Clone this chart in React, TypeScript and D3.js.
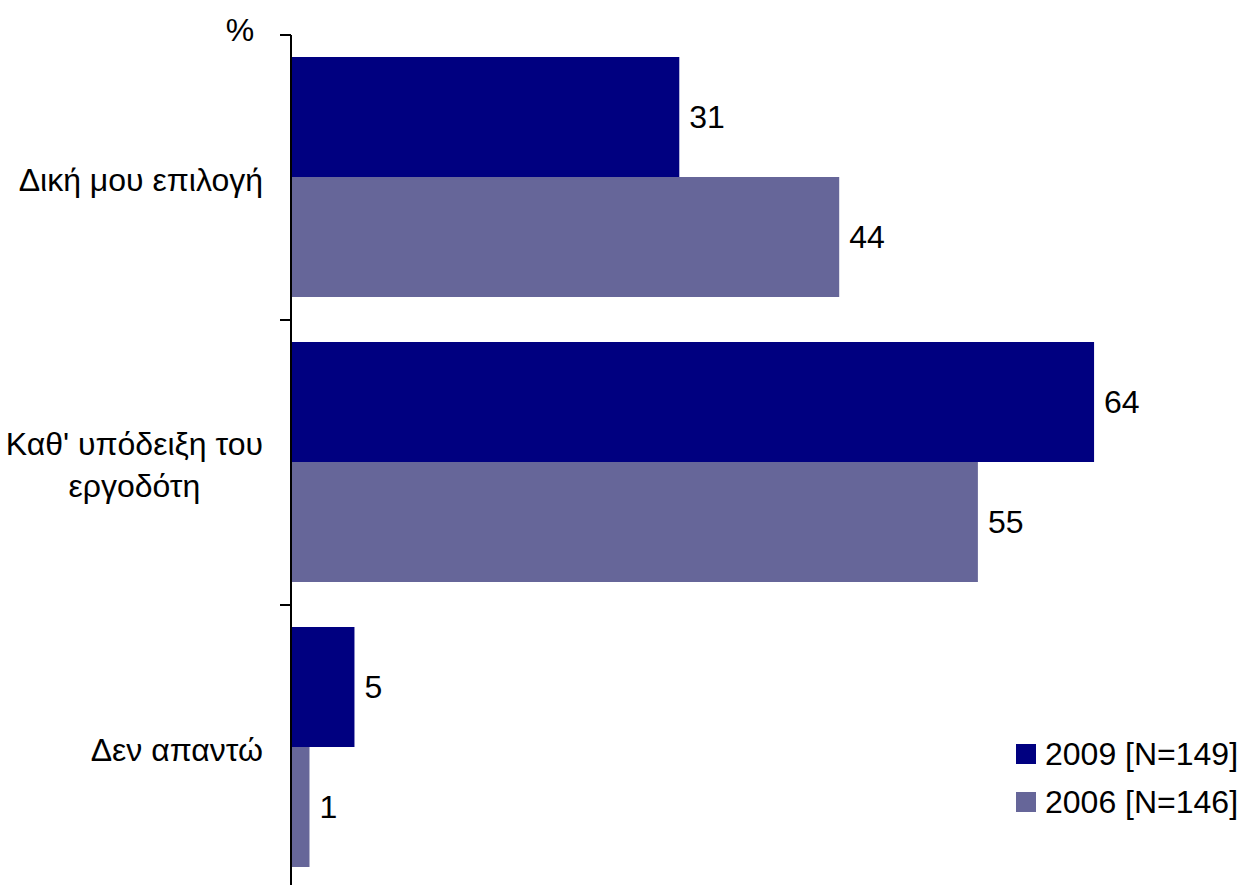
import React from "react";
import * as d3 from "d3";

const categories: string[][] = [
  ["Δική μου επιλογή"],
  ["Καθ' υπόδειξη του", "εργοδότη"],
  ["Δεν απαντώ"],
];
const categoryKeys = ["c1", "c2", "c3"];
const seriesNames = ["2009 [N=149]", "2006 [N=146]"];
const values2009 = [31, 64.2, 5];
const values2006 = [43.8, 54.9, 1.4];
const seriesValues = [values2009, values2006];
const colors = ["#000080", "#666699"];

const W = 1241;
const H = 885;
const FONT = "Liberation Sans, Arial, sans-serif";
const FS = 32;

let ctx: CanvasRenderingContext2D | null = null;
function measure(t: string): number {
  if (!ctx) {
    const c = document.createElement("canvas");
    ctx = c.getContext("2d");
  }
  if (!ctx) return t.length * FS * 0.5;
  ctx.font = `${FS}px ${FONT}`;
  return ctx.measureText(t).width;
}

export default function App() {
  const x = d3.scaleLinear().domain([0, 75]).range([292, 1229]);
  const yCat = d3.scaleBand<string>().domain(categoryKeys).range([35, 890]).padding(0);
  const step = yCat.bandwidth();
  const ySeries = d3
    .scaleBand<string>()
    .domain(seriesNames)
    .range([22, step - 23]);
  const fmt = d3.format(".0f");
  const labelRight = 263;

  return (
    <svg
      width={W}
      height={H}
      style={{ position: "absolute", left: 0, top: 0, background: "#fff" }}
      fontFamily={FONT}
    >
      <rect x={0} y={0} width={W} height={H} fill="#fff" />
      {categoryKeys.map((k, ci) => {
        const lines = categories[ci];
        const maxW = d3.max(lines, (l) => measure(l)) as number;
        const cx = labelRight - maxW / 2;
        return (
          <g key={k}>
            {seriesNames.map((s, si) => {
              const v = seriesValues[si][ci];
              const y0 = (yCat(k) as number) + (ySeries(s) as number);
              const h = ySeries.bandwidth();
              return (
                <g key={s}>
                  <rect x={x(0)} y={y0} width={x(v) - x(0)} height={h} fill={colors[si]} />
                  <text
                    x={x(v) + 10}
                    y={y0 + h / 2}
                    dy="0.35em"
                    fontSize={FS}
                    fill="#000"
                  >
                    {fmt(v)}
                  </text>
                </g>
              );
            })}
            {lines.map((line, li) => {
              const n = lines.length;
              const cy = (yCat(k) as number) + step / 2 + 2 + (li - (n - 1) / 2) * 42;
              return (
                <text
                  key={li}
                  x={cx}
                  y={cy}
                  dy="0.35em"
                  textAnchor="middle"
                  fontSize={FS}
                  fill="#000"
                >
                  {line}
                </text>
              );
            })}
          </g>
        );
      })}
      {/* axis */}
      <line x1={291} x2={291} y1={35} y2={H} stroke="#000" strokeWidth={2} />
      {[...categoryKeys.map((k) => yCat(k) as number), 890].map((t, i) => (
        <line key={i} x1={280} x2={291} y1={t} y2={t} stroke="#000" strokeWidth={2} />
      ))}
      <text x={240} y={30} dy="0.35em" textAnchor="middle" fontSize={FS} fill="#000">
        %
      </text>
      {/* legend */}
      {seriesNames.map((s, i) => (
        <g key={s} transform={`translate(1016, ${744 + i * 48})`}>
          <rect x={0} y={0} width={20} height={20} fill={colors[i]} />
          <text x={29} y={10} dy="0.35em" fontSize={FS} fill="#000">
            {s}
          </text>
        </g>
      ))}
    </svg>
  );
}
